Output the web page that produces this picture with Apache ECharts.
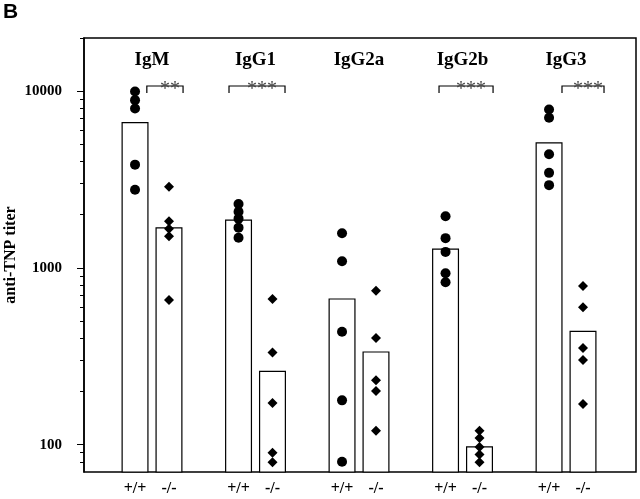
<!DOCTYPE html>
<html>
<head>
<meta charset="utf-8">
<script src="https://cdn.jsdelivr.net/npm/echarts@6/dist/echarts.min.js"></script>
<style>
  html, body { margin: 0; padding: 0; background: #fff; }
  #chart { width: 640px; height: 499px; position: relative; }
  .panel { position: absolute; left: 3px; top: -1px; font: bold 21px "Liberation Sans", Arial, sans-serif; }
</style>
</head>
<body>
<div id="chart"></div>
<div class="panel">B</div>
<script>
// isotypes and genotypes
const groups = ["IgM", "IgG1", "IgG2a", "IgG2b", "IgG3"];
const genotypes = ["+/+", "-/-"];

// bar heights (mean titer)
const wtMeans = [6700, 1880, 672, 1287, 5140];
const koMeans = [1700, 262, 337, 98, 441];

// individual mice
const wtTiters = [
  [9950, 8900, 7980, 3840, 2770],
  [2300, 2080, 1900, 1690, 1480],
  [1570, 1090, 435, 178, 80],
  [1960, 1474, 1232, 933, 830],
  [7880, 7070, 4400, 3450, 2940],
];
const koTiters = [
  [2880, 1835, 1665, 1510, 658],
  [667, 332, 172, 90, 79.4],
  [743, 401, 231, 201, 120],
  [120, 109, 97, 88, 79.4],
  [791, 598, 352, 301, 170],
];

// y ticks
const majorTicks = [100, 1000, 10000];
const minorTicks = [80, 90, 200, 300, 400, 500, 600, 700, 800, 900,
  2000, 3000, 4000, 5000, 6000, 7000, 8000, 9000, 20000];

// significance brackets (group index, span relative to group centre)
const brackets = [
  { group: 0, from: -0.05, to: 0.3, mark: "**" },
  { group: 1, from: -0.256, to: 0.285, mark: "***" },
  { group: 3, from: -0.227, to: 0.295, mark: "***" },
  { group: 4, from: -0.039, to: 0.367, mark: "***" },
];
const bracketLevel = 10700;

const pairOffset = 0.164;
const serif = '"Liberation Serif", "Times New Roman", serif';

const wtX = groups.map((g, i) => i - pairOffset);
const koX = groups.map((g, i) => i + pairOffset);

const points = (xs, titers) => {
  const out = [];
  titers.forEach((list, i) => list.forEach((v) => out.push([xs[i], v])));
  return out;
};

const chart = echarts.init(document.getElementById("chart"), null, { renderer: "canvas" });

const yBase = {
  type: "log",
  logBase: 10,
  min: 70,
  max: 20000,
  position: "left",
  splitLine: { show: false },
  minorTick: { show: false },
};

const xBase = {
  type: "value",
  min: -0.657,
  max: 4.676,
  axisLine: { show: false, onZero: false },
  axisTick: { show: false },
  splitLine: { show: false },
};

const option = {
  animation: false,
  grid: {
    left: 84, right: 4, top: 38, bottom: 27,
    outerBoundsMode: "none",
    containLabel: false,
    show: true, borderColor: "#000", borderWidth: 1.5, backgroundColor: "transparent",
  },
  xAxis: [
    Object.assign({}, xBase, {
      position: "bottom",
      axisLabel: {
        customValues: wtX.concat(koX),
        formatter: (v) => (v - Math.round(v) < 0 ? genotypes[0] : genotypes[1]),
        color: "#000",
        fontFamily: serif,
        fontWeight: "bold",
        fontSize: 16,
        margin: 9,
      },
    }),
    Object.assign({}, xBase, {
      position: "top",
      axisLabel: {
        inside: true,
        customValues: groups.map((g, i) => i),
        formatter: (v) => groups[Math.round(v)],
        color: "#000",
        fontFamily: serif,
        fontWeight: "bold",
        fontSize: 19,
        margin: 13,
      },
    }),
  ],
  yAxis: [
    Object.assign({}, yBase, {
      name: "anti-TNP titer",
      nameLocation: "middle",
      nameGap: 65,
      nameMoveOverlap: false,
      nameRotate: 90,
      nameTextStyle: { fontFamily: serif, fontWeight: "bold", fontSize: 16, color: "#000" },
      axisLine: { show: true, onZero: false, lineStyle: { color: "#000", width: 1.5 } },
      axisTick: { show: true, customValues: minorTicks, length: 4, lineStyle: { color: "#000" } },
      axisLabel: {
        customValues: majorTicks,
        formatter: (v) => String(Math.round(v)),
        color: "#000",
        fontFamily: serif,
        fontWeight: "bold",
        fontSize: 15,
        margin: 22,
      },
    }),
    Object.assign({}, yBase, {
      axisLine: { show: false, onZero: false },
      axisTick: { show: true, customValues: majorTicks, length: 7, lineStyle: { color: "#000" } },
      axisLabel: { show: false },
    }),
  ],
  series: [
    {
      name: "+/+ mean",
      type: "bar",
      barWidth: 27,
      barGap: "-100%",
      clip: true,
      data: wtMeans.map((v, i) => [wtX[i], v]),
      itemStyle: { color: "#fff", borderColor: "#000", borderWidth: 1.2 },
      z: 1,
    },
    {
      name: "-/- mean",
      type: "bar",
      barWidth: 27,
      barGap: "-100%",
      clip: true,
      data: koMeans.map((v, i) => [koX[i], v]),
      itemStyle: { color: "#fff", borderColor: "#000", borderWidth: 1.2 },
      z: 1,
    },
    {
      name: "+/+",
      type: "scatter",
      symbol: "circle",
      symbolSize: 10,
      data: points(wtX, wtTiters),
      itemStyle: { color: "#000", opacity: 1 },
      z: 3,
    },
    {
      name: "-/-",
      type: "scatter",
      symbol: "diamond",
      symbolSize: 10,
      data: points(koX, koTiters),
      itemStyle: { color: "#000", opacity: 1 },
      z: 3,
    },
    {
      name: "significance",
      type: "custom",
      clip: false,
      data: brackets.map((b) => [b.group + b.from, b.group + b.to, bracketLevel]),
      encode: { x: [0, 1], y: 2 },
      renderItem: (params, api) => {
        const a = api.coord([api.value(0), api.value(2)]);
        const b = api.coord([api.value(1), api.value(2)]);
        const drop = 7;
        return {
          type: "group",
          children: [
            {
              type: "polyline",
              shape: { points: [[a[0], a[1] + drop], a, b, [b[0], b[1] + drop]] },
              style: { stroke: "#000", lineWidth: 1.2, fill: null },
            },
            {
              type: "text",
              style: {
                text: brackets[params.dataIndex].mark,
                x: (a[0] + b[0]) / 2 + 5,
                y: a[1] + 4,
                align: "center",
                verticalAlign: "middle",
                font: "20px " + serif,
                fill: "#444",
              },
            },
          ],
        };
      },
      z: 4,
    },
  ],
};

chart.setOption(option);
window.addEventListener("resize", chart.resize);
</script>
</body>
</html>
